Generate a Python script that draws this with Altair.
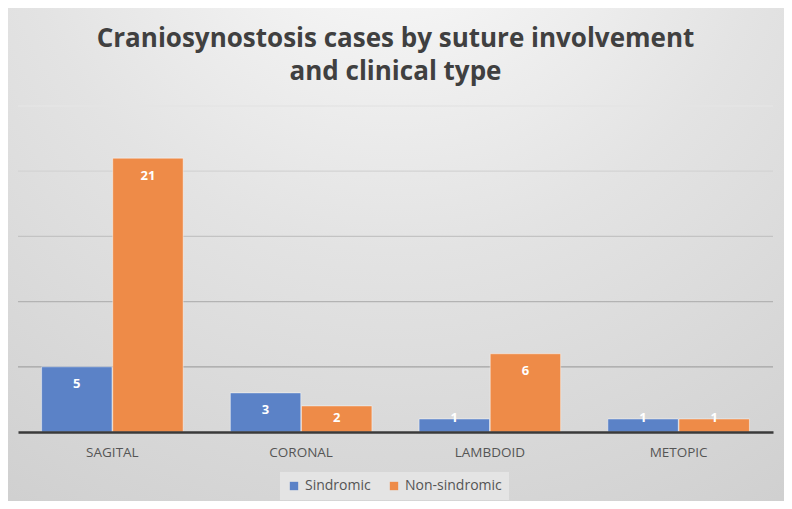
import altair as alt
import pandas as pd

categories = ["SAGITAL", "CORONAL", "LAMBDOID", "METOPIC"]
series = ["Sindromic", "Non-sindromic"]
sindromic = [5, 3, 1, 1]
non_sindromic = [21, 2, 6, 1]
grid_values = [5, 10, 15, 20, 25]

rows = []
for c, s, n in zip(categories, sindromic, non_sindromic):
    rows.append({"suture": c, "type": "Sindromic", "value": s})
    rows.append({"suture": c, "type": "Non-sindromic", "value": n})
df = pd.DataFrame(rows)
grid_df = pd.DataFrame({"g": grid_values})

W, H = 755, 326
PAD = {"left": 10, "top": 98, "right": 11, "bottom": 69}

gradient = alt.RadialGradient(
    gradient="radial",
    x1=0.5, y1=0.0, r1=0.0,
    x2=0.5, y2=0.0, r2=1.15,
    stops=[
        alt.GradientStop(color="#ffffff", offset=0.0),
        alt.GradientStop(color="#f6f6f6", offset=0.12),
        alt.GradientStop(color="#e3e3e3", offset=0.43),
        alt.GradientStop(color="#cfcfcf", offset=0.85),
        alt.GradientStop(color="#c3c3c3", offset=1.0),
    ],
)

bg = alt.Chart(pd.DataFrame({"a": [0]})).mark_rect(fill=gradient, strokeWidth=0).encode(
    x=alt.value(-PAD["left"]),
    x2=alt.value(W + PAD["right"]),
    y=alt.value(-PAD["top"]),
    y2=alt.value(H + PAD["bottom"]),
)

yscale = alt.Scale(domain=[0, 25])

rules = alt.Chart(grid_df).mark_rule(strokeWidth=1.3).encode(
    y=alt.Y("g:Q", scale=yscale, axis=None),
    color=alt.Color("g:Q", scale=alt.Scale(domain=[5, 25], range=["#a3a3a3", "#e4e4e4"]), legend=None),
)

xenc = alt.X(
    "suture:N",
    sort=categories,
    scale=alt.Scale(paddingInner=0.25, paddingOuter=0.125),
    axis=alt.Axis(
        title=None, labelAngle=0, ticks=False, domainColor="#3a3a3a", domainWidth=2.5,
        labelPadding=13, labelFontSize=13.5, labelColor="#555555", labelFont="Open Sans",
        zindex=2,
    ),
)
xoff = alt.XOffset("type:N", sort=series, scale=alt.Scale(domain=series, paddingInner=0.01))

bars = alt.Chart(df).mark_bar(stroke="#ffffff", strokeOpacity=0.45, strokeWidth=1).encode(
    x=xenc,
    xOffset=xoff,
    y=alt.Y("value:Q", scale=yscale, axis=None),
    color=alt.Color(
        "type:N",
        sort=series,
        scale=alt.Scale(domain=series, range=["#5b82c7", "#ee8b48"]),
        legend=alt.Legend(
            title=None, orient="none", legendX=262, legendY=366, direction="horizontal",
            fillColor="#e4e4e4", padding=7, symbolType="square", symbolSize=70,
            symbolStrokeWidth=0, labelFontSize=14, labelColor="#555555",
            labelFont="Open Sans", columnPadding=16, labelOffset=4, zindex=2,
        ),
    ),
)

labels = alt.Chart(df).transform_calculate(
    label_y="max(datum.value - 1.35, 1.1)"
).mark_text(
    color="white", fontWeight="bold", fontSize=13, font="Open Sans", baseline="middle"
).encode(
    x=xenc,
    xOffset=xoff,
    y=alt.Y("label_y:Q", scale=yscale, axis=None),
    text=alt.Text("value:Q"),
)

chart = alt.layer(bg, rules, bars, labels).resolve_scale(color="independent").properties(
    width=W,
    height=H,
    padding=PAD,
    autosize=alt.AutoSizeParams(type="none"),
    title=alt.TitleParams(
        text=["Craniosynostosis cases by suture involvement", "and clinical type"],
        font="Open Sans", fontSize=26, fontWeight="bold", color="#404040",
        lineHeight=33, offset=21, dy=PAD["top"], anchor="middle", zindex=2,
    ),
).configure_view(stroke=None)

chart.save("out.html", embed_options={"renderer": "svg", "actions": False})
